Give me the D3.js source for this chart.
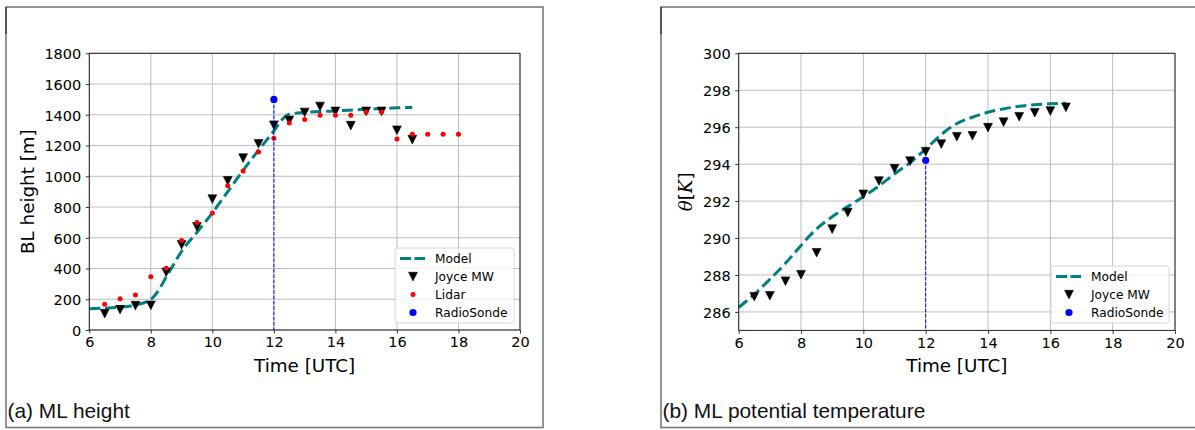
<!DOCTYPE html>
<html>
<head>
<meta charset="utf-8">
<script src="https://cdn.jsdelivr.net/npm/d3@7"></script>
<style>
  html, body { margin: 0; padding: 0; background: #fff; }
  svg { display: block; }
  .tick text { font-family: "DejaVu Sans", sans-serif; font-size: 14.5px; fill: #000; }
</style>
</head>
<body>
<svg id="fig" width="1195" height="430"></svg>
<script>
// ---- time axis (hours UTC) ----
const xTicks = [6, 8, 10, 12, 14, 16, 18, 20];

// ---- (a) mixed-layer height [m] ----
const heightTicks = [0, 200, 400, 600, 800, 1000, 1200, 1400, 1600, 1800];
const modelHeightTime = [6, 6.5, 7, 7.5, 8, 8.25, 8.5, 8.75, 9, 9.5, 10, 10.5, 11, 11.5, 12, 12.25, 12.5, 13, 14, 15, 16, 16.5];
const modelHeight     = [139, 142, 148, 163, 200, 258, 345, 430, 512, 635, 762, 900, 1038, 1170, 1295, 1365, 1403, 1415, 1425, 1436, 1445, 1448];
const joyceTime   = [6.5, 7, 7.5, 8, 8.5, 9, 9.5, 10, 10.5, 11, 11.5, 12, 12.5, 13, 13.5, 14, 14.5, 15, 15.5, 16, 16.5];
const joyceHeight = [107, 133, 159, 161, 376, 555, 672, 852, 971, 1119, 1212, 1333, 1364, 1416, 1455, 1423, 1330, 1423, 1423, 1300, 1239];
const lidarTime   = [6.5, 7, 7.5, 8, 8.5, 9, 9.5, 10, 10.5, 11, 11.5, 12, 12.5, 13, 13.5, 14, 14.5, 15, 15.5, 16, 16.5, 17, 17.5, 18];
const lidarHeight = [168, 204, 228, 347, 401, 583, 700, 761, 939, 1034, 1158, 1247, 1347, 1369, 1397, 1397, 1397, 1418, 1418, 1243, 1273, 1273, 1273, 1273];
const sondeTime = [12];
const sondeHeight = [1500];

// ---- (b) mixed-layer potential temperature [K] ----
const thetaTicks = [286, 288, 290, 292, 294, 296, 298, 300];
const modelThetaTime = [6, 6.5, 7, 7.5, 8, 8.5, 9, 9.5, 10, 10.5, 11, 11.5, 12, 12.5, 13, 13.5, 14, 14.5, 15, 15.5, 16, 16.5];
const modelTheta     = [286.25, 286.95, 287.77, 288.63, 289.6, 290.5, 291.15, 291.7, 292.24, 292.82, 293.47, 294.08, 294.82, 295.6, 296.2, 296.54, 296.81, 296.99, 297.13, 297.22, 297.27, 297.3];
const joyceTheta = [286.83, 286.88, 287.67, 288.02, 289.21, 290.49, 291.39, 292.37, 293.09, 293.76, 294.17, 294.68, 295.09, 295.49, 295.54, 295.98, 296.28, 296.57, 296.79, 296.88, 297.08];
const sondeTheta = [294.21];

const TEAL = "#008080";
const svg = d3.select("#fig");

const triPath = "M-4.4,-4.2L4.4,-4.2L0,4.4Z";

function panel(cfg) {
  const g = svg.append("g");

  // outer frame of the panel
  g.append("rect")
    .attr("x", cfg.frame[0]).attr("y", cfg.frame[1])
    .attr("width", cfg.frame[2]).attr("height", cfg.frame[3])
    .attr("fill", "none").attr("stroke", "#7a7a7a").attr("stroke-width", 1.6);
  g.append("line")
    .attr("x1", cfg.frame[0]).attr("x2", cfg.frame[0])
    .attr("y1", cfg.frame[1]).attr("y2", cfg.frame[1] + 27)
    .attr("stroke", "#555").attr("stroke-width", 2);

  const x = d3.scaleLinear().domain([6, 20]).range(cfg.xr);
  const y = d3.scaleLinear().domain(cfg.yd).range(cfg.yr);

  // grid
  g.append("g").selectAll("line.vg").data(xTicks).join("line")
    .attr("x1", d => x(d)).attr("x2", d => x(d))
    .attr("y1", cfg.yr[0]).attr("y2", cfg.yr[1])
    .attr("stroke", "#bdbdbd").attr("stroke-width", 1);
  g.append("g").selectAll("line.hg").data(cfg.yTicks).join("line")
    .attr("x1", cfg.xr[0]).attr("x2", cfg.xr[1])
    .attr("y1", d => y(d)).attr("y2", d => y(d))
    .attr("stroke", "#bdbdbd").attr("stroke-width", 1);

  // axes
  const xa = g.append("g").attr("transform", `translate(0,${cfg.yr[0]})`)
    .call(d3.axisBottom(x).tickValues(xTicks).tickFormat(d3.format("d")).tickSize(3.5).tickPadding(3.5));
  const ya = g.append("g").attr("transform", `translate(${cfg.xr[0]},0)`)
    .call(d3.axisLeft(y).tickValues(cfg.yTicks).tickFormat(d3.format("d")).tickSize(3.5).tickPadding(4.5));
  [xa, ya].forEach(a => {
    a.select(".domain").remove();
    a.selectAll(".tick line").attr("stroke", "#222").attr("stroke-width", 0.9);
  });
  ya.selectAll(".tick text").attr("dy", "0.36em");

  // model curve
  const line = d3.line().x(d => x(d[0])).y(d => y(d[1])).curve(d3.curveMonotoneX);
  g.append("path")
    .datum(cfg.modelT.map((t, i) => [t, cfg.modelV[i]]))
    .attr("d", line).attr("fill", "none")
    .attr("stroke", TEAL).attr("stroke-width", 3)
    .attr("stroke-dasharray", "11,4.8");

  // microwave radiometer retrievals
  g.append("g").selectAll("path").data(joyceTime.map((t, i) => [t, cfg.joyceV[i]])).join("path")
    .attr("d", triPath)
    .attr("transform", d => `translate(${x(d[0])},${y(d[1])})`)
    .attr("fill", "#000").attr("stroke", "#000").attr("stroke-width", 0.6);

  // lidar retrievals
  if (cfg.lidarV) {
    g.append("g").selectAll("circle").data(lidarTime.map((t, i) => [t, cfg.lidarV[i]])).join("circle")
      .attr("cx", d => x(d[0])).attr("cy", d => y(d[1])).attr("r", 2.5)
      .attr("fill", "#ff0000");
  }

  // radiosonde with a dashed drop line to the axis
  sondeTime.forEach((t, i) => {
    g.append("line")
      .attr("x1", x(t)).attr("x2", x(t))
      .attr("y1", y(cfg.sondeV[i])).attr("y2", cfg.yr[0])
      .attr("stroke", "#0000ff").attr("stroke-width", 1)
      .attr("stroke-dasharray", "3.7,1.6");
    g.append("circle")
      .attr("cx", x(t)).attr("cy", y(cfg.sondeV[i])).attr("r", 3.6)
      .attr("fill", "#0000ff");
  });

  // spines
  g.append("rect")
    .attr("x", cfg.xr[0]).attr("y", cfg.yr[1])
    .attr("width", cfg.xr[1] - cfg.xr[0]).attr("height", cfg.yr[0] - cfg.yr[1])
    .attr("fill", "none").attr("stroke", "#222").attr("stroke-width", 1);

  // axis titles
  g.append("text")
    .attr("x", (cfg.xr[0] + cfg.xr[1]) / 2).attr("y", 372)
    .attr("text-anchor", "middle")
    .attr("font-family", "DejaVu Sans").attr("font-size", 18.3)
    .text("Time [UTC]");
  const yl = g.append("text")
    .attr("transform", `translate(${cfg.ylabelX},${(cfg.yr[0] + cfg.yr[1]) / 2}) rotate(-90)`)
    .attr("text-anchor", "middle")
    .attr("font-family", "DejaVu Sans").attr("font-size", 18.3);
  cfg.ylabel(yl);

  // legend
  const L = cfg.legend;
  const lg = g.append("g");
  lg.append("rect")
    .attr("x", L.x).attr("y", L.y).attr("width", L.w).attr("height", L.h)
    .attr("rx", 2.5).attr("fill", "#fff").attr("fill-opacity", 0.8)
    .attr("stroke", "#d6d6d6").attr("stroke-width", 1);
  L.items.forEach((it, i) => {
    const cy = L.y + 10.5 + i * 18;
    const hx = L.x + 18;
    if (it.kind === "line") {
      lg.append("line").attr("x1", hx - 13).attr("x2", hx + 12)
        .attr("y1", cy).attr("y2", cy)
        .attr("stroke", TEAL).attr("stroke-width", 3).attr("stroke-dasharray", "11,3.5");
    } else if (it.kind === "tri") {
      lg.append("path").attr("d", triPath).attr("transform", `translate(${hx},${cy})`)
        .attr("fill", "#000").attr("stroke", "#000").attr("stroke-width", 0.6);
    } else if (it.kind === "dot") {
      lg.append("circle").attr("cx", hx).attr("cy", cy).attr("r", 2.5).attr("fill", "#ff0000");
    } else {
      lg.append("circle").attr("cx", hx).attr("cy", cy).attr("r", 3.6).attr("fill", "#0000ff");
    }
    lg.append("text").attr("x", L.x + 40).attr("y", cy).attr("dy", "0.36em")
      .attr("font-family", "DejaVu Sans").attr("font-size", 12.2).attr("fill", "#000")
      .text(it.label);
  });

  // panel caption
  g.append("text")
    .attr("x", cfg.frame[0] + 1.5).attr("y", 418)
    .attr("font-family", "Liberation Sans, Arial, sans-serif").attr("font-size", 20.9)
    .attr("fill", "#111")
    .text(cfg.caption);
}

panel({
  frame: [6, 7, 537, 420.5],
  xr: [89.3, 520], yr: [330, 53.3], yd: [0, 1800],
  yTicks: heightTicks,
  modelT: modelHeightTime, modelV: modelHeight,
  joyceV: joyceHeight, lidarV: lidarHeight, sondeV: sondeHeight,
  ylabelX: 34,
  ylabel: t => t.text("BL height [m]"),
  legend: { x: 395, y: 248, w: 119, h: 75, items: [
    { kind: "line", label: "Model" },
    { kind: "tri", label: "Joyce MW" },
    { kind: "dot", label: "Lidar" },
    { kind: "sonde", label: "RadioSonde" }
  ]},
  caption: "(a) ML height"
});

panel({
  frame: [661, 7, 540, 420.5],
  xr: [738.7, 1175], yr: [330.4, 53.3], yd: [285, 300],
  yTicks: thetaTicks,
  modelT: modelThetaTime, modelV: modelTheta,
  joyceV: joyceTheta, lidarV: null, sondeV: sondeTheta,
  ylabelX: 692,
  ylabel: t => {
    t.append("tspan").attr("font-family", "DejaVu Serif").attr("font-style", "italic").text("θ");
    t.append("tspan").text("[");
    t.append("tspan").attr("font-family", "DejaVu Serif").attr("font-style", "italic").text("K");
    t.append("tspan").text("]");
  },
  legend: { x: 1051, y: 266, w: 118, h: 57, items: [
    { kind: "line", label: "Model" },
    { kind: "tri", label: "Joyce MW" },
    { kind: "sonde", label: "RadioSonde" }
  ]},
  caption: "(b) ML potential temperature"
});
</script>
</body>
</html>
